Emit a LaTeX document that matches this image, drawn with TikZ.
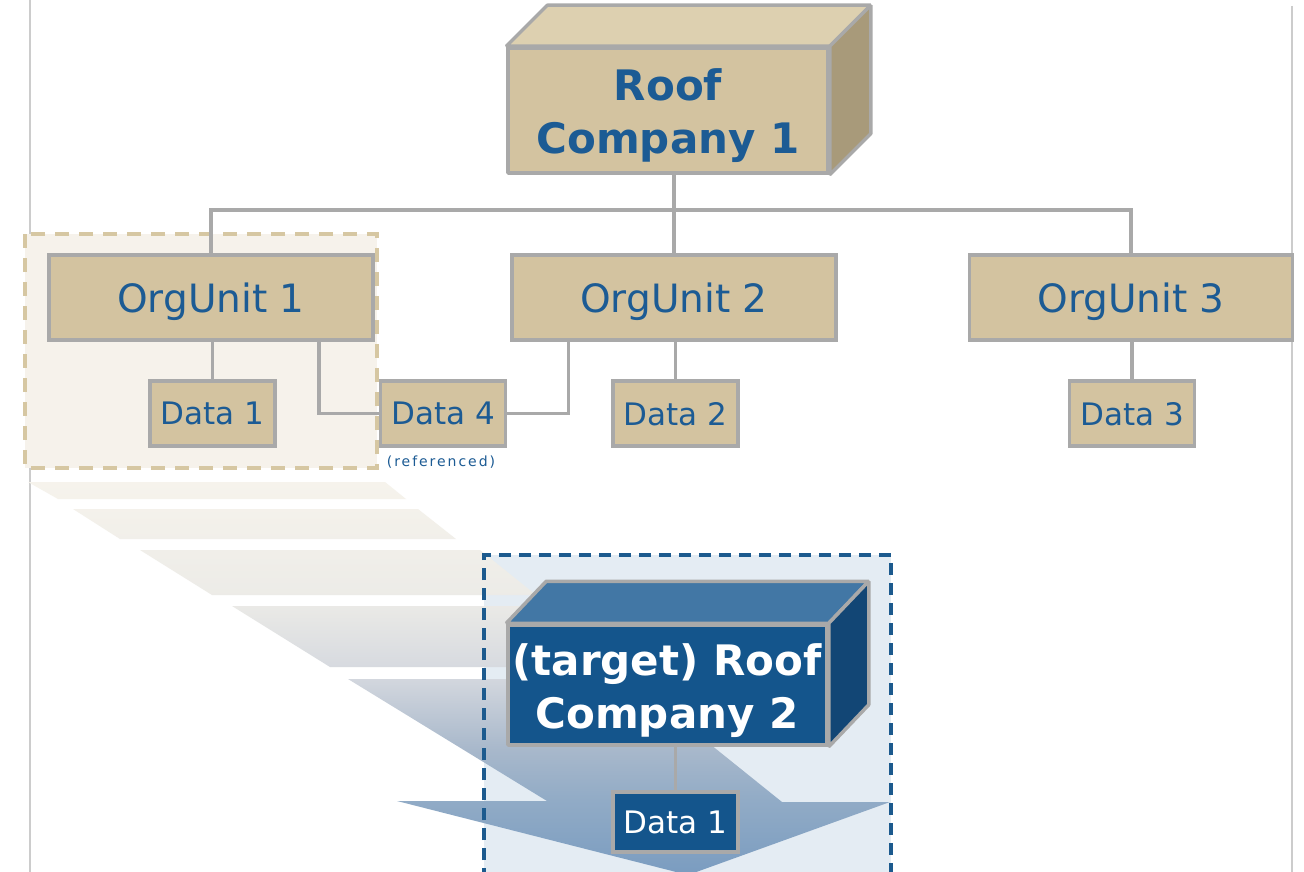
\documentclass[tikz,border=0pt]{standalone}
\usepackage{fontspec}
\setmainfont{DejaVu Sans}
\newfontfamily\smallspaced[LetterSpace=14]{DejaVu Sans}
\usetikzlibrary{calc}

\definecolor{tanfront}{HTML}{D3C3A0}
\definecolor{tantop}{HTML}{DDD0B0}
\definecolor{tanside}{HTML}{A89A7A}
\definecolor{bluefront}{HTML}{14558C}
\definecolor{bluetop}{HTML}{4277A5}
\definecolor{blueside}{HTML}{124675}
\definecolor{edgegray}{HTML}{A9A9A9}
\definecolor{inkblue}{HTML}{1C5B94}
\definecolor{tanzone}{HTML}{F6F2EB}
\definecolor{tandash}{HTML}{D6C7A2}
\definecolor{bluezone}{HTML}{E4ECF3}
\definecolor{bluedash}{HTML}{1C5A8E}
\definecolor{pagerule}{HTML}{CCCCCC}
% colour ramp of the stepped migration arrow
\definecolor{flowA}{HTML}{F6F3EC}
\definecolor{flowB}{HTML}{ECEBE7}
\definecolor{flowC}{HTML}{D3D7DE}
\definecolor{flowD}{HTML}{A8B8CB}
\definecolor{flowE}{HTML}{91ABC6}
\definecolor{flowF}{HTML}{7A9CC0}
\pgfdeclareverticalshading{flow}{100bp}{color(0bp)=(flowF); color(25bp)=(flowF);
  color(34.5bp)=(flowE); color(41bp)=(flowD); color(50bp)=(flowC);
  color(60bp)=(flowB); color(75bp)=(flowA); color(100bp)=(flowA)}

\begin{document}
\begin{tikzpicture}[x=1pt,y=-1pt,
  link/.style={draw=edgegray, line width=3.5pt},
  thinlink/.style={draw=edgegray, line width=2.2pt},
  unitbox/.style={draw=edgegray, line width=3.5pt, fill=tanfront, text=inkblue,
    font=\fontsize{39}{47}\selectfont, text depth=0pt,
    minimum width=324pt, minimum height=85pt, inner sep=0pt},
  databox/.style={draw=edgegray, line width=3.5pt, fill=tanfront, text=inkblue,
    font=\fontsize{31}{37}\selectfont, text depth=0pt,
    minimum width=125pt, minimum height=65pt, inner sep=0pt},
  tdatabox/.style={databox, fill=bluefront, text=white, minimum height=60pt},
  cubeface/.style={draw=edgegray, line width=3.5pt, line join=bevel},
  cubetext/.style={font=\bfseries\fontsize{42}{53}\selectfont, align=center, inner sep=0pt},
]
\useasboundingbox[fill=white] (0,0) rectangle (1304,872);

% page rules
\draw[pagerule, line width=1.5pt] (30,0) -- (30,872);
\draw[pagerule, line width=1.5pt] (1292,6) -- (1292,872);

% selected sub-tree zone
\draw[fill=tanzone, draw=tandash, line width=4pt, dash pattern=on 14pt off 10pt]
  (25,234) rectangle (377,468);

% target zone background
\fill[bluezone] (484,555) rectangle (891,880);

% stepped migration arrow
\shade[shading=flow]
  (28,482) -- (385,482) -- (406,499) -- (58,499) -- cycle
  (73,509) -- (418,509) -- (456,539) -- (120,539) -- cycle
  (140,550) -- (480,550) -- (536,595) -- (212,595) -- cycle
  (232,606) -- (539,606) -- (614,667) -- (330,667) -- cycle
  (348,679) -- (629,679) -- (782,802) -- (890,802) -- (688,875)
    -- (397,801) -- (547,801) -- cycle;

% target zone outline
\draw[bluedash, line width=3.5pt, dash pattern=on 12pt off 8pt]
  (484,880) -- (484,555) -- (891,555) -- (891,880);

% source company
\node[cubeface, fill=tanfront, minimum width=320pt, minimum height=125pt, inner sep=0pt]
  (rc1) at (668,110.5) {};
\draw[cubeface, fill=tantop] (rc1.north west) -- ++(41,-41)
  -- ($(rc1.north east)+(41,-41)$) -- (rc1.north east) -- cycle;
\draw[cubeface, fill=tanside] (rc1.north east) -- ++(41,-41)
  -- ($(rc1.south east)+(41,-41)$) -- (rc1.south east) -- cycle;
\node[cubetext, text=inkblue] (rc1t) at (668,115.5) {Roof\\Company 1};

% organisational units
\node[unitbox] (ou1) at (211,297.5) {OrgUnit 1};
\node[unitbox] (ou2) at (674,297.5) {OrgUnit 2};
\node[unitbox, minimum width=323pt] (ou3) at (1131,297.5) {OrgUnit 3};

% data objects
\node[databox] (d1) at (212.5,413.5) {Data 1};
\node[databox] (d4) at (443,413.5) {Data 4};
\node[databox] (d2) at (675.5,413.5) {Data 2};
\node[databox] (d3) at (1132,413.5) {Data 3};
\node[text=inkblue, font=\smallspaced\fontsize{14}{16}\selectfont, inner sep=0pt]
  (refd) at (441,462) {(referenced)};

% hierarchy links
\coordinate (bus) at (0,210);
\draw[link] (ou2.north |- rc1.south) -- (ou2.north |- bus);
\draw[link] (ou1.north) -- (ou1.north |- bus) -- (ou3.north |- bus) -- (ou3.north);
\draw[link] (ou2.north) -- (ou2.north |- bus);
\draw[link] (d1.north) -- (d1.north |- ou1.south);
\draw[link] (d2.north) -- (d2.north |- ou2.south);
\draw[link] (d3.north) -- (d3.north |- ou3.south);
\draw[link] ([xshift=-56pt]ou1.south east) |- (d4.west);
\draw[link] ([xshift=58pt]ou2.south west) |- (d4.east);

% target company
\node[cubeface, fill=bluefront, minimum width=319pt, minimum height=120pt, inner sep=0pt]
  (rc2) at (667.5,685) {};
\draw[cubeface, fill=bluetop] (rc2.north west) -- ++(40,-42)
  -- ($(rc2.north east)+(40,-42)$) -- (rc2.north east) -- cycle;
\draw[cubeface, fill=blueside] (rc2.north east) -- ++(40,-42)
  -- ($(rc2.south east)+(40,-42)$) -- (rc2.south east) -- cycle;
\node[cubetext, text=white] (rc2t) at (667,690.5) {(target) Roof\\Company 2};

\node[tdatabox] (t1) at (675.5,822) {Data 1};
\draw[thinlink] (t1.north) -- (t1.north |- rc2.south);
\end{tikzpicture}
\end{document}
